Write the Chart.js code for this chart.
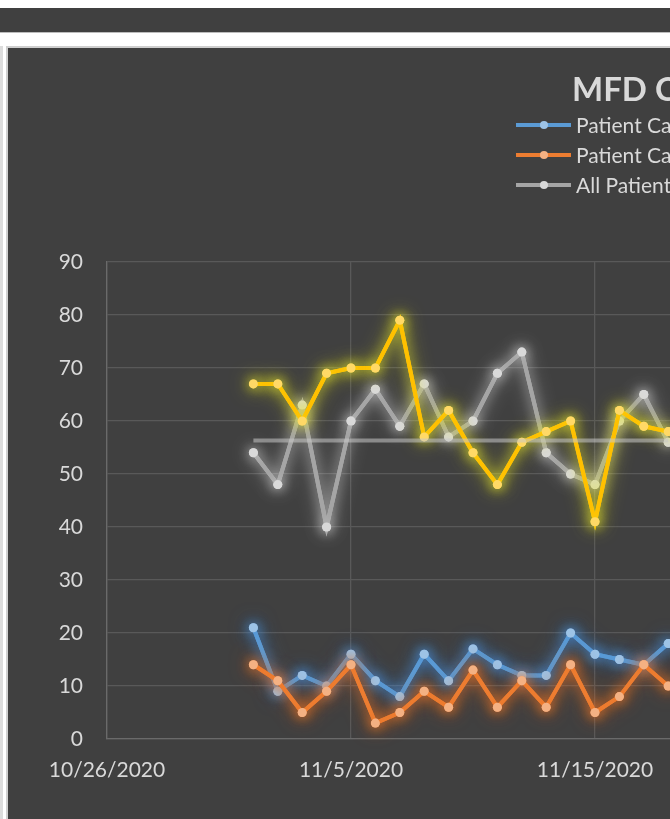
<!DOCTYPE html>
<html>
<head>
<meta charset="utf-8">
<script src="https://cdn.jsdelivr.net/npm/chart.js@4.4.0/dist/chart.umd.min.js"></script>
<style>
  html, body { margin: 0; padding: 0; background: #fff; overflow: hidden; width: 670px; height: 819px; }
  .topbar { position: absolute; left: 0; top: 8px; width: 670px; height: 24px; background: #404040; border-bottom: 1px solid #bcbcbc; }
  .edge { position: absolute; left: 0; top: 46px; width: 3px; height: 773px; background: #dcdcdc; }
  .frame { position: absolute; left: 6px; top: 46px; width: 662px; height: 773px; background: #404040;
           border-left: 2px solid #cfcfcf; border-top: 2px solid #cfcfcf; overflow: hidden; }
  #chart { position: absolute; left: 0; top: 0; }
  .title { position: absolute; left: 564px; top: 24px; font: bold 33px Lato, sans-serif; line-height: 33px;
           color: #d9d9d9; white-space: nowrap; }
  .leg { position: absolute; left: 508px; height: 21px; display: flex; align-items: center; white-space: nowrap;
         font: 21px Lato, sans-serif; color: #d9d9d9; }
  .leg .ln { position: relative; width: 55px; height: 4px; margin-right: 5px; }
  .leg .dot { position: absolute; left: 24px; top: -2px; width: 8px; height: 8px; border-radius: 50%; }
</style>
</head>
<body>
<div class="topbar"></div>
<div class="edge"></div>
<div class="frame">
  <canvas id="chart" width="1155" height="771"></canvas>
  <div class="title">MFD COVID Patients</div>
  <div id="legend"></div>
</div>
<script>
const dates = ['11/1/2020', '11/2/2020', '11/3/2020', '11/4/2020', '11/5/2020', '11/6/2020',
  '11/7/2020', '11/8/2020', '11/9/2020', '11/10/2020', '11/11/2020', '11/12/2020',
  '11/13/2020', '11/14/2020', '11/15/2020', '11/16/2020', '11/17/2020', '11/18/2020'];
const seriesNames = ['Patient Calls EMS', 'Patient Calls Fire', 'All Patients', 'Total Calls', 'Average'];
const blueValues = [21, 9, 12, 10, 16, 11, 8, 16, 11, 17, 14, 12, 12, 20, 16, 15, 14, 18];
const orangeValues = [14, 11, 5, 9, 14, 3, 5, 9, 6, 13, 6, 11, 6, 14, 5, 8, 14, 10];
const grayValues = [54, 48, 63, 40, 60, 66, 59, 67, 57, 60, 69, 73, 54, 50, 48, 60, 65, 56];
const yellowValues = [67, 67, 60, 69, 70, 70, 79, 57, 62, 54, 48, 56, 58, 60, 41, 62, 59, 58];
const avgValues = [56.3, 56.3, 56.3, 56.3, 56.3, 56.3, 56.3, 56.3, 56.3, 56.3, 56.3, 56.3,
  56.3, 56.3, 56.3, 56.3, 56.3, 56.3];
const startDate = '10/26/2020';
const endDate = '12/5/2020';
const yTicks = [0, 10, 20, 30, 40, 50, 60, 70, 80, 90];

function dayOffset(d) {
  return Math.round((new Date(d) - new Date(startDate)) / 86400000);
}
function toPoints(vals) {
  return vals.map((v, i) => ({ x: dayOffset(dates[i]), y: v }));
}
function fmtDate(n) {
  const s = new Date(startDate);
  const d = new Date(s.getFullYear(), s.getMonth(), s.getDate() + n);
  return (d.getMonth() + 1) + '/' + d.getDate() + '/' + d.getFullYear();
}

// soft glow around lines and markers: one extra blurred pass, then the normal one
const glowPlugin = {
  id: 'glow',
  beforeDatasetDraw(chart, args) {
    const ds = chart.data.datasets[args.index];
    chart.ctx.save();
    if (ds.glowColor) {
      chart.ctx.shadowColor = ds.glowColor;
      chart.ctx.shadowBlur = 20;
      args.meta.controller.draw();
      chart.ctx.shadowBlur = 12;
    }
  },
  afterDatasetDraw(chart) {
    chart.ctx.restore();
  }
};

function line(label, vals, color, pointColor, glow) {
  return {
    label: label,
    data: toPoints(vals),
    borderColor: color,
    backgroundColor: pointColor,
    pointBackgroundColor: pointColor,
    pointBorderWidth: 0,
    pointRadius: 4.5,
    borderWidth: 4,
    tension: 0,
    glowColor: glow
  };
}

function draw() {
  Chart.defaults.font.family = 'Lato';
  const datasets = [
    { label: seriesNames[4], data: toPoints(avgValues), borderColor: 'rgba(200,200,200,0.55)',
      borderWidth: 4, pointRadius: 0, tension: 0 },
    line(seriesNames[3], yellowValues, '#ffc000', '#ffd966', 'rgba(235,235,40,0.8)'),
    line(seriesNames[2], grayValues, '#a5a5a5', '#d9d9d9', 'rgba(255,255,255,0.55)'),
    line(seriesNames[1], orangeValues, '#ed7d31', '#f4b183', 'rgba(240,115,35,0.85)'),
    line(seriesNames[0], blueValues, '#5b9bd5', '#9dc3e6', 'rgba(70,145,225,0.85)')
  ];

  new Chart(document.getElementById('chart'), {
    type: 'line',
    data: { datasets: datasets },
    plugins: [glowPlugin],
    options: {
      responsive: false,
      animation: false,
      layout: { padding: { top: 214, right: 80, left: 0, bottom: 0 } },
      plugins: { legend: { display: false }, title: { display: false }, tooltip: { enabled: false } },
      scales: {
        x: {
          type: 'linear',
          min: 0,
          max: dayOffset(endDate),
          afterFit: s => { s.height = 80; },
          afterBuildTicks: s => { s.ticks = s.ticks.filter(t => t.value % 10 === 0); },
          ticks: { stepSize: 10, color: '#d9d9d9', font: { size: 21 }, padding: 19, maxRotation: 0,
                   callback: v => fmtDate(v) },
          grid: { color: '#595959', lineWidth: 1.3, drawTicks: false },
          border: { color: '#6a6a6a', width: 1.3 }
        },
        y: {
          min: yTicks[0],
          max: yTicks[yTicks.length - 1],
          afterFit: s => { s.width = 99; },
          afterBuildTicks: s => { s.ticks = yTicks.map(v => ({ value: v })); },
          ticks: { color: '#d9d9d9', font: { size: 21 }, padding: 24 },
          grid: { color: '#595959', lineWidth: 1.3, drawTicks: false },
          border: { color: '#6a6a6a', width: 1.3 }
        }
      }
    }
  });

  // legend entries visible at this crop
  const legendTops = [114, 144, 174];
  const legendHost = document.getElementById('legend');
  [4, 3, 2].forEach((idx, i) => {
    const ds = datasets[idx];
    const el = document.createElement('div');
    el.className = 'leg';
    el.style.top = (legendTops[i] - 48) + 'px';
    el.innerHTML = '<span class="ln" style="background:' + ds.borderColor + '">' +
      '<span class="dot" style="background:' + ds.pointBackgroundColor + '"></span></span>' + ds.label;
    legendHost.appendChild(el);
  });
}

document.fonts.load('21px Lato').then(draw, draw);
</script>
</body>
</html>
